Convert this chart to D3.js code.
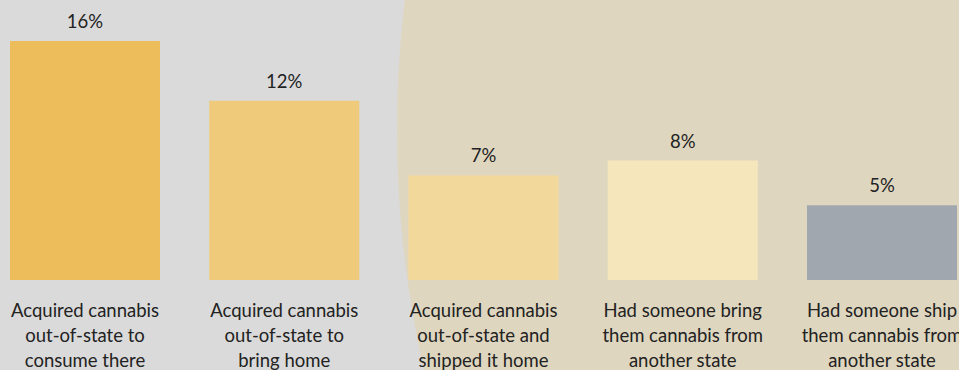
<!DOCTYPE html>
<html>
<head>
<meta charset="utf-8">
<script src="https://cdn.jsdelivr.net/npm/d3@7.9.0/dist/d3.min.js"></script>
<style>
  html, body { margin: 0; padding: 0; background: #dadada; overflow: hidden; }
  svg { display: block; }
  text { font-family: Lato, "Open Sans", sans-serif; fill: #222; }
</style>
</head>
<body>
<svg width="959" height="370"></svg>
<script>
const categories = [
  'Acquired cannabis out-of-state to consume there',
  'Acquired cannabis out-of-state to bring home',
  'Acquired cannabis out-of-state and shipped it home',
  'Had someone bring them cannabis from another state',
  'Had someone ship them cannabis from another state'
];
const labelLines = [
  ['Acquired cannabis', 'out-of-state to', 'consume there'],
  ['Acquired cannabis', 'out-of-state to', 'bring home'],
  ['Acquired cannabis', 'out-of-state and', 'shipped it home'],
  ['Had someone bring', 'them cannabis from', 'another state'],
  ['Had someone ship', 'them cannabis from', 'another state']
];
const values = [16, 12, 7, 8, 5];
const colors = ['#edbd5b', '#f0ca7b', '#f2d89b', '#f6e6bc', '#a0a7ae'];

const svg = d3.select('svg');

// beige circle in the background
svg.append('rect').attr('width', 959).attr('height', 370).attr('fill', '#dadada');
svg.append('circle')
  .attr('cx', 397 + 1080).attr('cy', 130).attr('r', 1080)
  .attr('fill', '#dfd6c0');

const x = d3.scaleBand()
  .domain(categories)
  .range([10, 957])
  .paddingInner(0.247)
  .paddingOuter(0);

const y = d3.scaleLinear()
  .domain([0, 16])
  .range([280, 41]);

const g = svg.append('g');

g.selectAll('rect.bar')
  .data(values)
  .join('rect')
  .attr('class', 'bar')
  .attr('x', (d, i) => x(categories[i]))
  .attr('y', d => y(d))
  .attr('width', x.bandwidth())
  .attr('height', d => y(0) - y(d))
  .attr('fill', (d, i) => colors[i]);

g.selectAll('text.val')
  .data(values)
  .join('text')
  .attr('class', 'val')
  .attr('x', (d, i) => x(categories[i]) + x.bandwidth() / 2)
  .attr('y', d => y(d) - 13)
  .attr('text-anchor', 'middle')
  .style('font-size', '18.5px')
  .text(d => d + '%');

const lab = g.selectAll('text.cat')
  .data(labelLines)
  .join('text')
  .attr('class', 'cat')
  .attr('text-anchor', 'middle')
  .style('font-size', '18.5px');

lab.each(function(lines, i) {
  const cx = x(categories[i]) + x.bandwidth() / 2;
  d3.select(this).selectAll('tspan')
    .data(lines)
    .join('tspan')
    .attr('x', cx)
    .attr('y', (d, j) => 317 + j * 25)
    .text(d => d);
});
</script>
</body>
</html>
